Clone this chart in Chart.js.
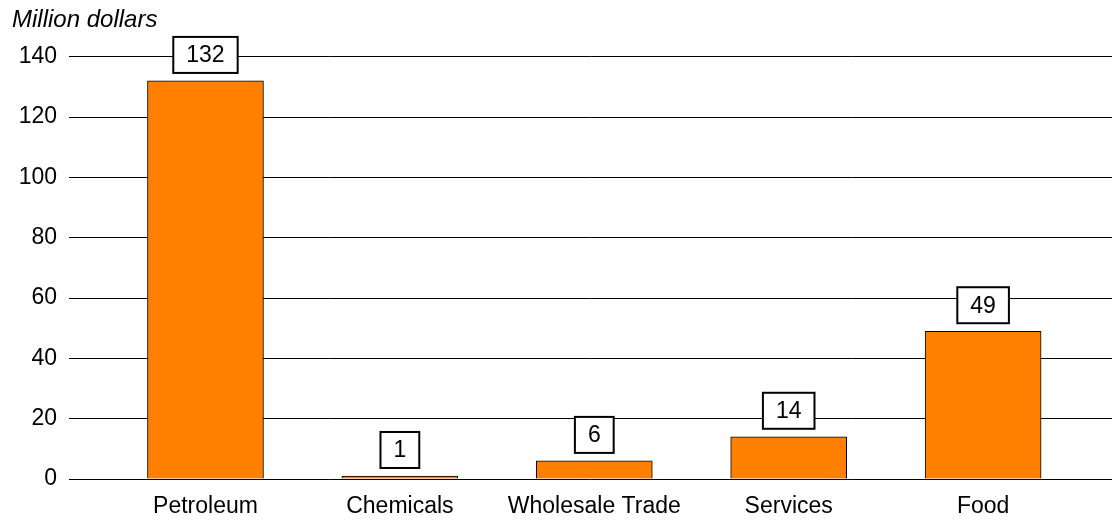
<!DOCTYPE html>
<html>
<head>
<meta charset="utf-8">
<script src="https://cdn.jsdelivr.net/npm/chart.js@4/dist/chart.umd.min.js"></script>
<style>
  html, body { margin: 0; padding: 0; background: #fff; }
  #wrap { width: 1112px; height: 525px; position: relative; }
</style>
</head>
<body>
<div id="wrap"><canvas id="grafico"></canvas></div>
<script>
// Datos del gráfico
const categorias = ['Petroleum', 'Chemicals', 'Wholesale Trade', 'Services', 'Food'];
const valores = [132, 1, 6, 14, 49];
const ticksY = [0, 20, 40, 60, 80, 100, 120, 140];

const fuente = "'Liberation Sans', Arial, sans-serif";

// Etiquetas con recuadro encima de cada barra
const etiquetasPlugin = {
    id: 'etiquetas',
    afterDatasetsDraw(chart) {
        const c = chart.ctx;
        const meta = chart.getDatasetMeta(0);
        c.save();
        c.font = '23px ' + fuente;
        c.textAlign = 'center';
        c.textBaseline = 'middle';
        meta.data.forEach((bar, i) => {
            const texto = String(valores[i]);
            const w = c.measureText(texto).width + 26;
            const h = 36;
            const x = bar.x - w / 2;
            const y = bar.y - 8 - h;
            c.fillStyle = '#fff';
            c.fillRect(x, y, w, h);
            c.lineWidth = 2;
            c.strokeStyle = '#000';
            c.strokeRect(x, y, w, h);
            c.fillStyle = '#000';
            c.fillText(texto, bar.x, y + h / 2 + 1);
        });
        c.restore();
    }
};

const ctx = document.getElementById('grafico').getContext('2d');

const myChart = new Chart(ctx, {
    type: 'bar',
    data: {
        datasets: [{
            data: valores.map((v, i) => ({ x: i, y: v })),
            backgroundColor: '#FF8000',
            borderColor: '#000',
            borderWidth: 1,
            barThickness: 116
        }]
    },
    options: {
        responsive: true,
        maintainAspectRatio: false,
        animation: false,
        layout: { padding: { left: 12, top: 0, right: 0, bottom: 6 } },
        plugins: {
            legend: { display: false },
            tooltip: { enabled: false },
            title: {
                display: true,
                text: 'Million dollars',
                align: 'start',
                color: '#000',
                font: { family: fuente, size: 24, style: 'italic', weight: 'normal' },
                padding: { top: 6, bottom: 22 }
            }
        },
        scales: {
            x: {
                type: 'linear',
                offset: false,
                min: -0.702,
                max: 4.663,
                grid: { display: false, drawTicks: false },
                border: { display: false },
                afterBuildTicks: scale => {
                    scale.ticks = categorias.map((c, i) => ({ value: i }));
                },
                afterFit: scale => { scale.height = 40; },
                ticks: {
                    padding: 14,
                    color: '#000',
                    maxRotation: 0,
                    autoSkip: false,
                    font: { family: fuente, size: 23 },
                    callback: v => categorias[v]
                }
            },
            y: {
                min: 0,
                max: 140,
                afterBuildTicks: scale => {
                    scale.ticks = ticksY.map(v => ({ value: v }));
                },
                afterFit: scale => { scale.width = 57; },
                grid: { color: '#000', lineWidth: 1, drawTicks: false },
                border: { display: false },
                ticks: {
                    padding: 12,
                    color: '#000',
                    font: { family: fuente, size: 23 }
                }
            }
        }
    },
    plugins: [etiquetasPlugin]
});
</script>
</body>
</html>
